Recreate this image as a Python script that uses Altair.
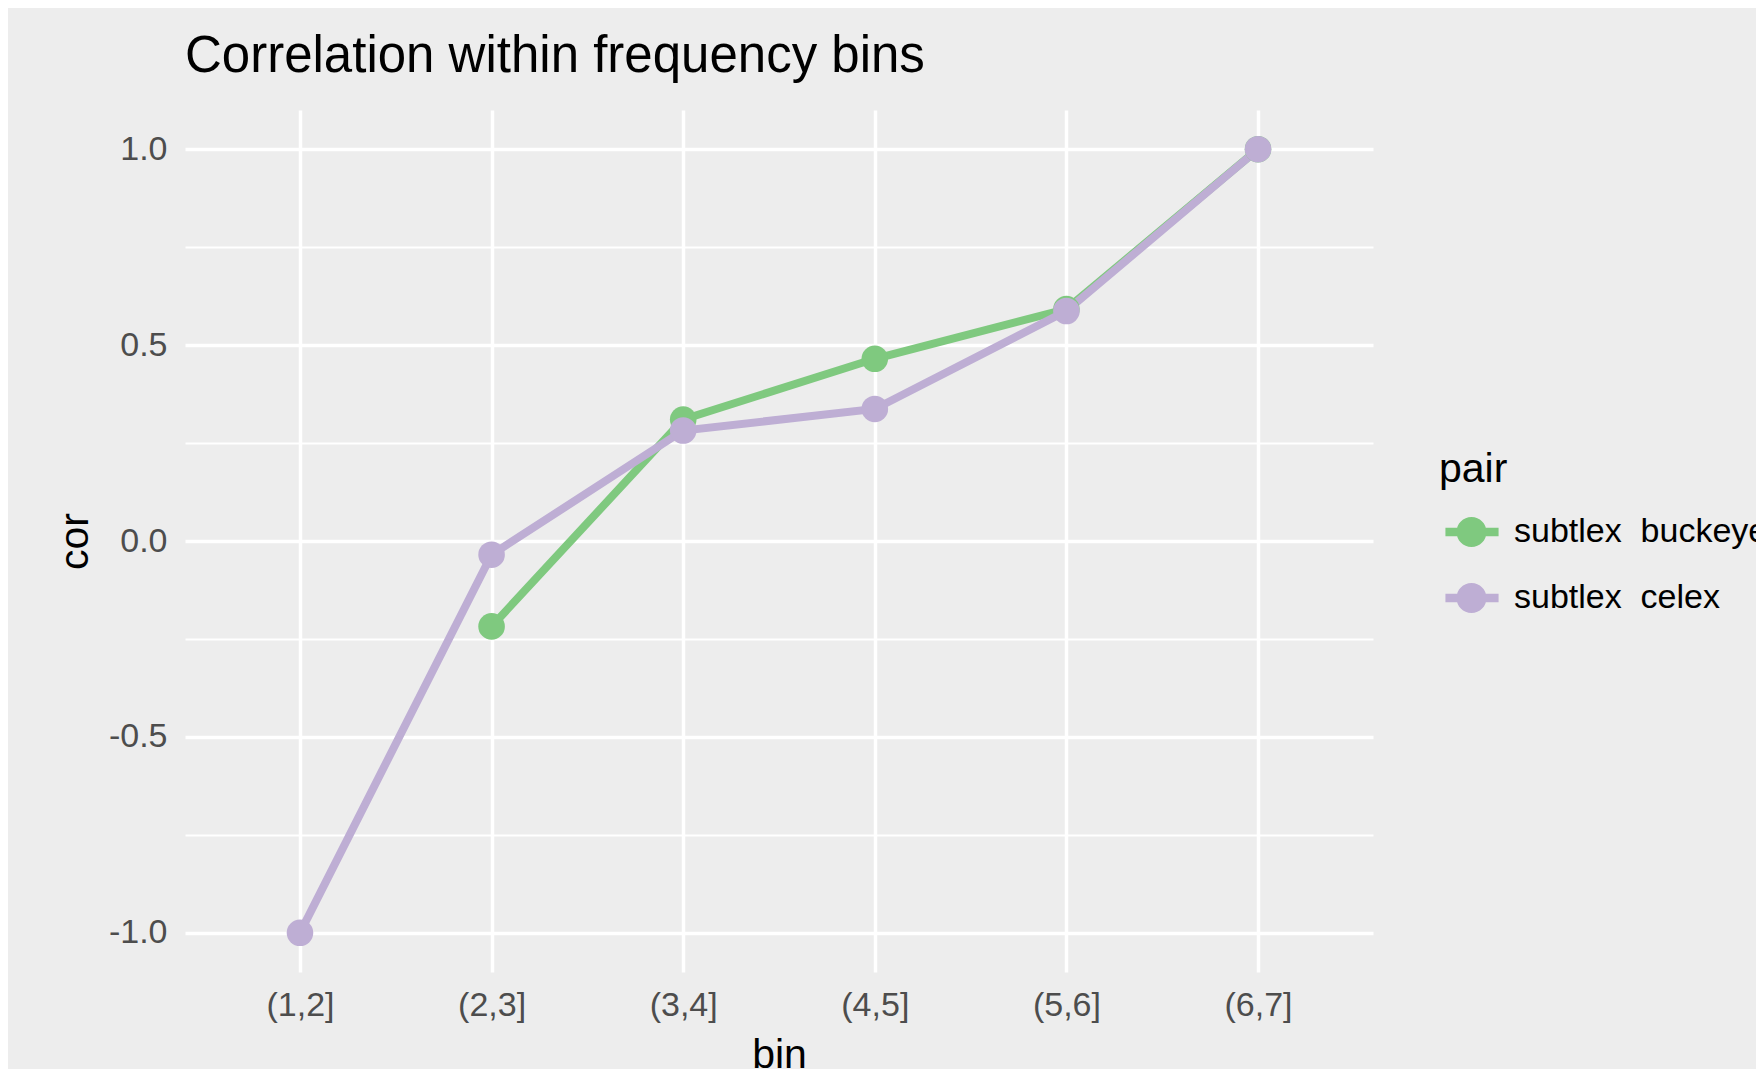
import altair as alt
import pandas as pd

bins = ["(1,2]", "(2,3]", "(3,4]", "(4,5]", "(5,6]", "(6,7]"]
pairs = ["subtlex  buckeye", "subtlex  celex"]
buckeye_cor = [None, -0.218, 0.310, 0.465, 0.592, 1.0]
celex_cor = [-1.0, -0.035, 0.282, 0.337, 0.587, 1.0]
colors = ["#7FC97F", "#BEAED4"]
y_ticks = [-1.0, -0.75, -0.5, -0.25, 0.0, 0.25, 0.5, 0.75, 1.0]

rows = []
for pair, vals in zip(pairs, [buckeye_cor, celex_cor]):
    for b, v in zip(bins, vals):
        if v is not None:
            rows.append({"bin": b, "cor": v, "pair": pair})
df = pd.DataFrame(rows)

FONT = "Liberation Sans"
minor_test = "abs(datum.value*2 - round(datum.value*2)) > 0.01"

legend_path = ("M-0.64,-0.26H2.58V0.26H-0.64Z "
               "M1.85,0A0.91,0.91,0,1,1,0.03,0A0.91,0.91,0,1,1,1.85,0Z")

legend = alt.Legend(
    orient="none", legendX=1254, legendY=340, padding=0,
    title="pair", titleFontSize=41, titleFontWeight="normal", titleColor="black",
    titleFont=FONT, titlePadding=24,
    labelFontSize=34, labelColor="black", labelFont=FONT, labelOffset=41,
    labelLimit=600,
    labelExpr="replace(datum.label, '  ', ' \u00a0')",
    symbolType=legend_path, symbolSize=1089, symbolStrokeWidth=0,
    symbolOpacity=1, rowPadding=32,
)

color = alt.Color("pair:N", scale=alt.Scale(domain=pairs, range=colors), legend=legend)

x = alt.X("bin:N", sort=bins, scale=alt.Scale(type="point", padding=0.6),
          axis=alt.Axis(title="bin", labelAngle=0, ticks=False, domain=False, grid=True,
                        labelFontSize=34, labelColor="#4D4D4D", labelFont=FONT,
                        labelPadding=16, titleFontSize=41, titleFontWeight="normal",
                        titleColor="black", titleFont=FONT, titlePadding=13,
                        gridColor="white", gridWidth=3.5, gridOpacity=1))

y = alt.Y("cor:Q", scale=alt.Scale(domain=[-1.1, 1.1], nice=False, zero=False),
          axis=alt.Axis(title="cor", values=y_ticks, ticks=False, domain=False,
                        labelExpr=f"{minor_test} ? '' : (datum.value < 0 ? '-' : '') + format(abs(datum.value), '.1f')",
                        labelFontSize=34, labelColor="#4D4D4D", labelFont=FONT,
                        labelPadding=18, titleFontSize=41, titleFontWeight="normal",
                        titleColor="black", titleFont=FONT, titlePadding=12,
                        gridColor="white", gridOpacity=1,
                        gridWidth={"condition": {"test": minor_test, "value": 2}, "value": 3.5}))

base = alt.Chart(df).encode(x=x, y=y, color=color)

lines = base.mark_line(strokeWidth=8, strokeCap="butt")
points = base.mark_point(filled=True, size=707, opacity=1)

chart = alt.layer(lines, points).properties(
    width=1188, height=862,
    title=alt.TitleParams("Correlation within frequency bins", anchor="start", frame="group",
                          fontSize=51, font=FONT, fontWeight="normal", color="black",
                          offset=-13, baseline="alphabetic"),
    autosize=alt.AutoSizeParams(type="none"),
    padding={"left": 177, "top": 102, "right": 383, "bottom": 100},
).configure(background="#EDEDED").configure_view(fill="#EDEDED", stroke=None)

chart.save("out.html", embed_options={"renderer": "svg", "actions": False})
